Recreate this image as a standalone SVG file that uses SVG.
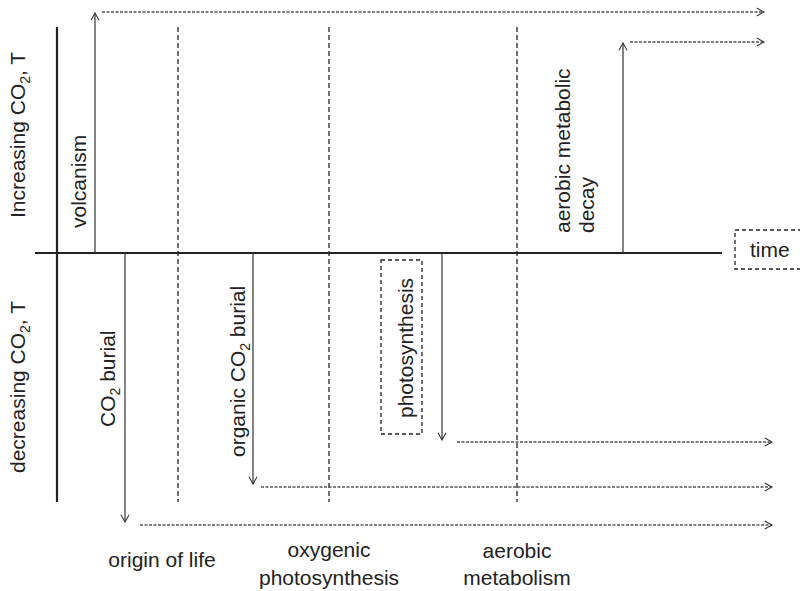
<svg xmlns="http://www.w3.org/2000/svg" width="800" height="591" viewBox="0 0 800 591">
<defs>
<style>
text{font-family:"Liberation Sans",Arial,sans-serif;font-size:21px;fill:#222}
.axis{stroke:#222;stroke-width:2.2;fill:none}
.era{stroke:#222;stroke-width:1.3;stroke-dasharray:5,3;fill:none}
.flux{stroke:#333;stroke-width:1.2;fill:none}
.trend{stroke:#555;stroke-width:1.3;stroke-dasharray:3,1.5;fill:none}
.box{stroke:#222;stroke-width:1.3;stroke-dasharray:4,3;fill:none}
</style>
<marker id="ah" viewBox="0 0 10 10" refX="9" refY="5" markerWidth="9" markerHeight="10" markerUnits="userSpaceOnUse" orient="auto">
<path d="M1,0.5 L9,5 L1,9.5" fill="none" stroke="#333" stroke-width="1.2"/>
</marker>
</defs>
<rect width="800" height="591" fill="#fff"/>
<g id="axes">
<line class="axis" x1="57" y1="27" x2="57" y2="502"/>
<line class="axis" x1="35" y1="253" x2="722" y2="253"/>
</g>
<g id="eras">
<line class="era" x1="178" y1="27" x2="178" y2="502"/>
<line class="era" x1="329" y1="27" x2="329" y2="502"/>
<line class="era" x1="517" y1="27" x2="517" y2="502"/>
</g>
<g id="connectors">
<line class="flux" x1="95" y1="253" x2="95" y2="13" marker-end="url(#ah)"/>
<line class="flux" x1="623" y1="253" x2="623" y2="43" marker-end="url(#ah)"/>
<line class="flux" x1="125" y1="253" x2="125" y2="522" marker-end="url(#ah)"/>
<line class="flux" x1="253" y1="253" x2="253" y2="484" marker-end="url(#ah)"/>
<line class="flux" x1="442" y1="253" x2="442" y2="440" marker-end="url(#ah)"/>
<line class="trend" x1="102" y1="12" x2="764" y2="12" marker-end="url(#ah)"/>
<line class="trend" x1="630" y1="42" x2="764" y2="42" marker-end="url(#ah)"/>
<line class="trend" x1="457" y1="442" x2="772" y2="442" marker-end="url(#ah)"/>
<line class="trend" x1="261" y1="487" x2="772" y2="487" marker-end="url(#ah)"/>
<line class="trend" x1="140" y1="525" x2="772" y2="525" marker-end="url(#ah)"/>
</g>
<g id="label-increasing"><text transform="translate(25,218) rotate(-90)">Increasing CO<tspan font-size="14" dy="5">2</tspan><tspan dy="-5">, T</tspan></text></g>
<g id="label-decreasing"><text transform="translate(25,473) rotate(-90)">decreasing CO<tspan font-size="14" dy="5">2</tspan><tspan dy="-5">, T</tspan></text></g>
<g id="node-volcanism"><text transform="translate(86,228) rotate(-90)">volcanism</text></g>
<g id="node-co2-burial"><text transform="translate(115,427) rotate(-90)">CO<tspan font-size="14" dy="5">2</tspan><tspan dy="-5"> burial</tspan></text></g>
<g id="node-organic-burial"><text transform="translate(245,457) rotate(-90)">organic CO<tspan font-size="14" dy="5">2</tspan><tspan dy="-5"> burial</tspan></text></g>
<g id="node-photosynthesis">
<rect class="box" x="381" y="260" width="41" height="174"/>
<text transform="translate(413,418) rotate(-90)">photosynthesis</text>
</g>
<g id="node-aerobic-decay">
<text transform="translate(570,233) rotate(-90)">aerobic metabolic</text>
<text transform="translate(594,233) rotate(-90)">decay</text>
</g>
<g id="node-time">
<rect class="box" x="735" y="230" width="80" height="39"/>
<text x="750" y="257">time</text>
</g>
<g id="era-origin"><text x="162" y="567" text-anchor="middle">origin of life</text></g>
<g id="era-oxygenic">
<text x="329" y="557" text-anchor="middle">oxygenic</text>
<text x="329" y="585" text-anchor="middle">photosynthesis</text>
</g>
<g id="era-aerobic">
<text x="517" y="558" text-anchor="middle">aerobic</text>
<text x="517" y="585" text-anchor="middle">metabolism</text>
</g>
</svg>
